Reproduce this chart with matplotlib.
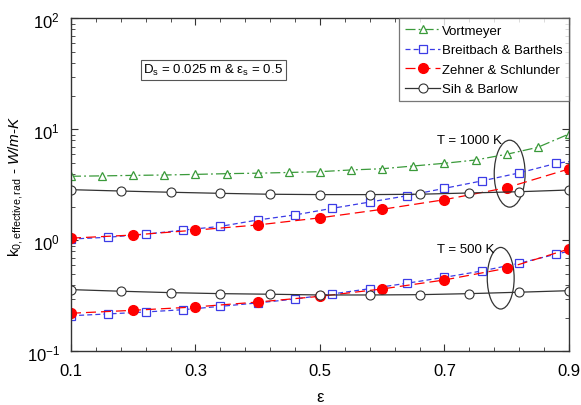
import numpy as np
import matplotlib
matplotlib.use('Agg')
import matplotlib.pyplot as plt
from matplotlib.patches import Ellipse

plt.rcParams['font.family'] = ['Liberation Sans', 'DejaVu Sans']
plt.rcParams['mathtext.fontset'] = 'custom'
plt.rcParams['mathtext.rm'] = 'Liberation Sans'
plt.rcParams['mathtext.it'] = 'Liberation Sans:italic'

# --- data ---
# Vortmeyer (markers every 0.05)
vm_eps = [0.10, 0.15, 0.20, 0.25, 0.30, 0.35, 0.40, 0.45, 0.50,
          0.55, 0.60, 0.65, 0.70, 0.75, 0.80, 0.85, 0.90]
vm_1000 = [3.79, 3.82, 3.86, 3.89, 3.94, 4.00, 4.04, 4.10, 4.17,
           4.32, 4.43, 4.69, 4.96, 5.31, 5.98, 6.91, 9.10]

# Breitbach & Barthels (markers every 0.06, line goes on to 0.9)
bb_eps = [0.10, 0.16, 0.22, 0.28, 0.34, 0.40, 0.46, 0.52, 0.58,
          0.64, 0.70, 0.76, 0.82, 0.88, 0.90]
bb_1000 = [1.03, 1.07, 1.14, 1.24, 1.34, 1.53, 1.70, 1.95, 2.22,
           2.53, 2.95, 3.44, 4.06, 4.96, 5.13]
bb_500 = [0.210, 0.218, 0.227, 0.238, 0.255, 0.274, 0.297, 0.330, 0.368,
          0.412, 0.466, 0.531, 0.623, 0.755, 0.80]

# Zehner & Schlunder (markers every 0.1)
zs_eps = [0.1, 0.2, 0.3, 0.4, 0.5, 0.6, 0.7, 0.8, 0.9]
zs_1000 = [1.05, 1.12, 1.24, 1.38, 1.60, 1.91, 2.33, 2.99, 4.41]
zs_500 = [0.221, 0.235, 0.252, 0.279, 0.314, 0.366, 0.441, 0.562, 0.838]

# Sih & Barlow (markers every 0.08)
sb_eps = [0.10, 0.18, 0.26, 0.34, 0.42, 0.50, 0.58, 0.66, 0.74, 0.82, 0.90]
sb_1000 = [2.87, 2.79, 2.72, 2.66, 2.61, 2.59, 2.59, 2.61, 2.68, 2.75, 2.85]
sb_500 = [0.361, 0.349, 0.339, 0.332, 0.328, 0.323, 0.323, 0.325, 0.332, 0.342, 0.353]

x_major = [0.1, 0.3, 0.5, 0.7, 0.9]
x_labels = ['0.1', '0.3', '0.5', '0.7', '0.9']

green = '#3a9a3a'
blue = '#3c3ce6'
red = '#ff0000'
black = '#333333'

fig = plt.figure(figsize=(5.81, 4.06), dpi=100)
ax = fig.add_axes([0.1222, 0.1318, 0.857, 0.8202])

ms = 6
# 1000 K
ax.plot(vm_eps, vm_1000, color=green, ls=(0, (8, 2.5, 1.5, 2.5)), lw=0.9,
        marker='^', ms=ms, mfc='white', mec=green, mew=0.9, label='Vortmeyer')
ax.plot(bb_eps, bb_1000, color=blue, ls=(0, (4, 2.5)), lw=0.9,
        marker='s', ms=ms, mfc='white', mec=blue, mew=0.9, markevery=slice(0, 14),
        label='Breitbach & Barthels')
ax.plot(zs_eps, zs_1000, color=red, ls=(0, (8, 4)), lw=0.9,
        marker='o', ms=ms + 1, mfc=red, mec=red, label='Zehner & Schlunder')
ax.plot(sb_eps, sb_1000, color=black, ls='-', lw=0.9,
        marker='o', ms=ms + 0.5, mfc='white', mec=black, mew=0.8, label='Sih & Barlow')
# 500 K
ax.plot(bb_eps, bb_500, color=blue, ls=(0, (4, 2.5)), lw=0.9,
        marker='s', ms=ms, mfc='white', mec=blue, mew=0.9, markevery=slice(0, 14))
ax.plot(zs_eps, zs_500, color=red, ls=(0, (8, 4)), lw=0.9,
        marker='o', ms=ms + 1, mfc=red, mec=red)
ax.plot(sb_eps, sb_500, color=black, ls='-', lw=0.9,
        marker='o', ms=ms + 0.5, mfc='white', mec=black, mew=0.8)

ax.set_yscale('log')
ax.set_xlim(0.1, 0.9)
ax.set_ylim(0.1, 100)
ax.set_xticks(x_major)
ax.set_xticklabels(x_labels)
ax.set_xticks(np.linspace(0.1, 0.9, 21), minor=True)
ax.tick_params(which='both', direction='in', top=True, right=True, colors=black)
ax.tick_params(which='major', length=5, labelsize=12, pad=8, labelcolor='black')
ax.tick_params(which='minor', length=3)
for s in ax.spines.values():
    s.set_color(black)
    s.set_linewidth(1.0)

ax.set_xlabel('ε', fontsize=12, labelpad=8)
ax.set_ylabel(r'k$_{\mathregular{0,effective,rad}}$ - $\mathit{W/m}$-$\mathit{K}$',
              fontsize=11, labelpad=1)

# ellipses and temperature labels
ax.add_patch(Ellipse((0.881, 0.534), 0.062, 0.201, transform=ax.transAxes,
                     fill=False, ec=black, lw=0.9))
ax.add_patch(Ellipse((0.863, 0.220), 0.054, 0.185, transform=ax.transAxes,
                     fill=False, ec=black, lw=0.9))
ax.text(0.735, 0.634, 'T = 1000 K', transform=ax.transAxes, fontsize=9.5, va='center')
ax.text(0.735, 0.308, 'T = 500 K', transform=ax.transAxes, fontsize=9.5, va='center')

ax.text(0.145, 0.846, r'D$_{\mathregular{s}}$ = 0.025 m & ε$_{\mathregular{s}}$ = 0.5',
        transform=ax.transAxes, fontsize=9.5, va='center',
        bbox=dict(boxstyle='square,pad=0.2', fc='white', ec='#555555', lw=0.8))

leg = ax.legend(loc='upper right', fontsize=9.5, frameon=True, fancybox=False,
                borderaxespad=0, handlelength=2.6, handletextpad=0.2,
                borderpad=0.45, labelspacing=0.55)
leg.get_frame().set_edgecolor('#555555')
leg.get_frame().set_linewidth(0.9)

fig.savefig('out.png', dpi=100)
